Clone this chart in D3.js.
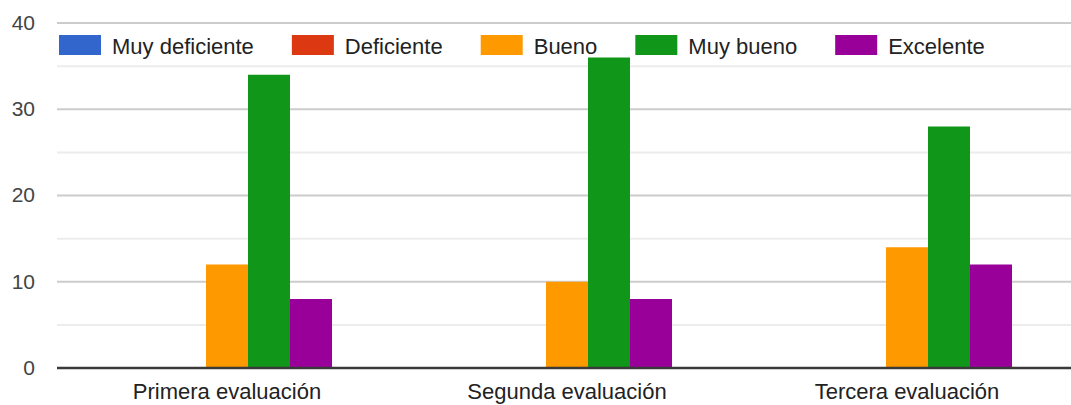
<!DOCTYPE html>
<html><head><meta charset="utf-8">
<script src="https://cdn.jsdelivr.net/npm/d3@7"></script>
<style>body{margin:0;background:#fff;}svg{display:block;font-family:"Liberation Sans",Arial,sans-serif;}</style>
</head><body>
<svg id="c" width="1071" height="405"></svg>
<script>
const categories = ["Primera evaluación", "Segunda evaluación", "Tercera evaluación"];
const seriesNames = ["Muy deficiente", "Deficiente", "Bueno", "Muy bueno", "Excelente"];
const seriesColors = ["#3366cc", "#dc3912", "#ff9900", "#109618", "#990099"];
const muyDeficiente = [0, 0, 0];
const deficiente = [0, 0, 0];
const bueno = [12, 10, 14];
const muyBueno = [34, 36, 28];
const excelente = [8, 8, 12];
const yTicks = [0, 10, 20, 30, 40];
const yMinorTicks = [5, 15, 25, 35];

const seriesValues = [muyDeficiente, deficiente, bueno, muyBueno, excelente];
const svg = d3.select("#c");
const mLeft = 57, mRight = 1077, mTop = 23, mBottom = 368;

const x = d3.scaleBand().domain(categories).range([mLeft, mRight]).paddingInner(0).paddingOuter(0);
const y = d3.scaleLinear().domain([0, 40]).range([mBottom, mTop]);
const groupW = 210;
const xs = d3.scaleBand().domain(seriesNames).range([0, groupW]).padding(0);

// minor grid
svg.append("g").selectAll("line").data(yMinorTicks).join("line")
  .attr("x1", mLeft).attr("x2", 1071).attr("y1", d => y(d)).attr("y2", d => y(d))
  .attr("stroke", "#ececec").attr("stroke-width", 2);
// major grid
svg.append("g").selectAll("line").data(yTicks.filter(d => d > 0)).join("line")
  .attr("x1", mLeft).attr("x2", 1071).attr("y1", d => y(d)).attr("y2", d => y(d))
  .attr("stroke", "#cccccc").attr("stroke-width", 2);

// y labels
svg.append("g").selectAll("text").data(yTicks).join("text")
  .attr("x", 35).attr("y", d => y(d)).attr("dy", "0.33em").attr("text-anchor", "end")
  .attr("font-size", 21).attr("fill", "#444").text(d => d);

// bars
const bars = [];
categories.forEach((c, i) => seriesNames.forEach((s, j) => bars.push({c, s, j, v: seriesValues[j][i]})));
svg.append("g").selectAll("rect").data(bars.filter(b => b.v > 0)).join("rect")
  .attr("x", b => x(b.c) + x.bandwidth() / 2 - groupW / 2 + xs(b.s))
  .attr("width", xs.bandwidth())
  .attr("y", b => y(b.v)).attr("height", b => y(0) - y(b.v))
  .attr("fill", b => seriesColors[b.j]);

// axis
svg.append("line").attr("x1", mLeft).attr("x2", 1071).attr("y1", y(0)).attr("y2", y(0))
  .attr("stroke", "#3a3a3a").attr("stroke-width", 2.5);

// x labels
svg.append("g").selectAll("text").data(categories).join("text")
  .attr("x", d => x(d) + x.bandwidth() / 2).attr("y", 399).attr("text-anchor", "middle")
  .attr("font-size", 22).attr("fill", "#222").text(d => d);

// legend
let lx = 59;
const lg = svg.append("g");
seriesNames.forEach((s, j) => {
  lg.append("rect").attr("x", lx).attr("y", 35).attr("width", 42).attr("height", 20).attr("fill", seriesColors[j]);
  const t = lg.append("text").attr("x", lx + 53).attr("y", 54).attr("font-size", 22).attr("fill", "#222").text(s);
  lx += 53 + t.node().getComputedTextLength() + 38;
});
</script>
</body></html>
